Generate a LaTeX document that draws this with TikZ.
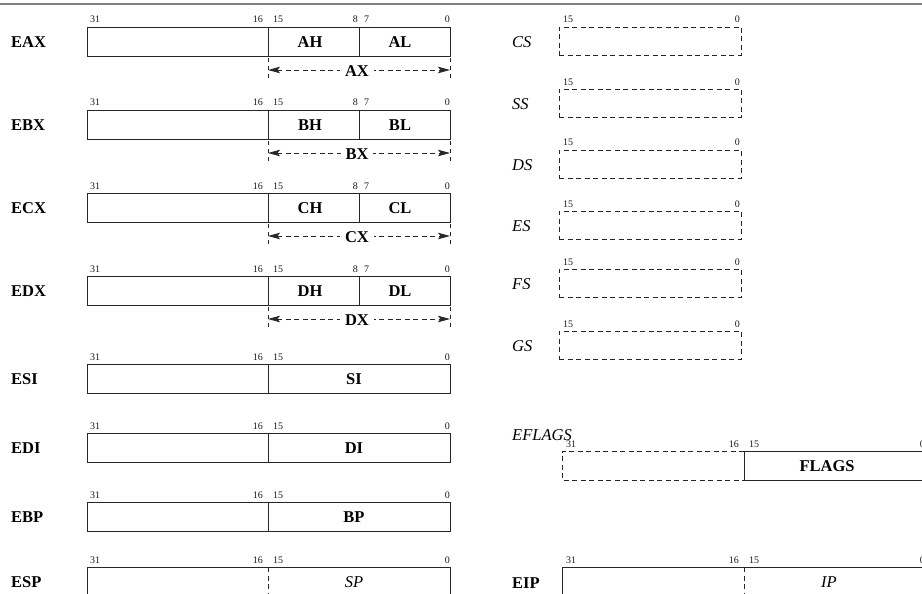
\documentclass[tikz,border=0pt]{standalone}
\usepackage{fontspec}
\setmainfont{Liberation Serif}
\usetikzlibrary{arrows.meta}
\tikzset{
  regline/.style={draw=black!85, line width=0.8pt},
  dregline/.style={draw=black!85, line width=0.8pt, dash pattern=on 5pt off 3.5pt},
  regbox/.style={regline, rectangle, minimum width=363pt, minimum height=29pt, inner sep=0pt, outer sep=0pt},
  segbox/.style={dregline, rectangle, minimum width=182pt, minimum height=28pt, inner sep=0pt, outer sep=0pt},
  bitlab/.style={font=\fontsize{10}{11}\selectfont, inner sep=0pt, text=black!90},
  reglab/.style={font=\fontsize{16.5}{18}\selectfont\bfseries, inner sep=0pt},
  seglab/.style={font=\fontsize{16.5}{18}\selectfont\itshape, inner sep=0pt},
  tickline/.style={draw=black!85, line width=0.8pt, dash pattern=on 4pt off 4pt},
  spanarrow/.style={draw=black!85, line width=0.8pt, dash pattern=on 5pt off 3.5pt,
     {Stealth[length=12pt,width=6.5pt,inset=2.5pt]}-{Stealth[length=12pt,width=6.5pt,inset=2.5pt]}},
}
\newcommand\gpxreg[6]{%
  \node[regbox,anchor=north west] (#1) at (87,#2) {};
  \draw[regline] (268,#2) -- (268,#2+29);
  \draw[regline] (359,#2) -- (359,#2+29);
  \node[bitlab,anchor=base west] (#1b31) at (90,#2-4) {31};
  \node[bitlab,anchor=base east] (#1b16) at (263,#2-4) {16};
  \node[bitlab,anchor=base west] (#1b15) at (273,#2-4) {15};
  \node[bitlab,anchor=base east] (#1b8) at (358,#2-4) {8};
  \node[bitlab,anchor=base west] (#1b7) at (364,#2-4) {7};
  \node[bitlab,anchor=base east] (#1b0) at (450,#2-4) {0};
  \node[reglab,anchor=west] (#1n) at (11,#2+15) {#3};
  \node[reglab] (#1h) at (310,#2+15) {#4};
  \node[reglab] (#1l) at (400,#2+15) {#5};
  \coordinate (#1tl) at (268,#2+31);
  \coordinate (#1bl) at (268,#2+53);
  \coordinate (#1tr) at (450,#2+31);
  \coordinate (#1br) at (450,#2+53);
  \coordinate (#1al) at (268,#2+43);
  \coordinate (#1ar) at (450,#2+43);
  \draw[tickline] (#1tl) -- (#1bl);
  \draw[tickline] (#1tr) -- (#1br);
  \draw[spanarrow] (#1al) -- (#1ar);
  \node[reglab,fill=white,inner xsep=5pt,inner ysep=1pt] (#1p) at (357,#2+44) {#6};
}
\newcommand\gpwreg[5]{% id, top, name, low, divider style
  \node[regbox,anchor=north west] (#1) at (87,#2) {};
  \draw[#5] (268,#2) -- (268,#2+29);
  \node[bitlab,anchor=base west] (#1b31) at (90,#2-4) {31};
  \node[bitlab,anchor=base east] (#1b16) at (263,#2-4) {16};
  \node[bitlab,anchor=base west] (#1b15) at (273,#2-4) {15};
  \node[bitlab,anchor=base east] (#1b0) at (450,#2-4) {0};
  \node[reglab,anchor=west] (#1n) at (11,#2+15) {#3};
  \node[reglab] (#1lo) at (354,#2+15) {#4};
}
\newcommand\segreg[3]{% id, top, name
  \node[segbox,anchor=north west] (#1) at (559,#2) {};
  \node[bitlab,anchor=base west] (#1b15) at (563,#2-4) {15};
  \node[bitlab,anchor=base east] (#1b0) at (740,#2-4) {0};
  \node[seglab,anchor=west] (#1n) at (512,#2+15) {#3};
}
\begin{document}
\begin{tikzpicture}[x=1pt,y=-1pt]
\useasboundingbox (0,0) rectangle (922,594);
\clip (0,0) rectangle (922,594);
% top rule
\coordinate (rulel) at (0,4.5);
\coordinate (ruler) at (922,4.5);
\draw[draw=black!50, line width=2pt] (rulel) -- (ruler);
% general registers
\gpxreg{eax}{27}{EAX}{AH}{AL}{AX}
\gpxreg{ebx}{110}{EBX}{BH}{BL}{BX}
\gpxreg{ecx}{193}{ECX}{CH}{CL}{CX}
\gpxreg{edx}{276}{EDX}{DH}{DL}{DX}
\gpwreg{esi}{364}{ESI}{SI}{regline}
\gpwreg{edi}{433}{EDI}{DI}{regline}
\gpwreg{ebp}{502}{EBP}{BP}{regline}
\gpwreg{esp}{567}{ESP}{\normalfont\fontsize{16.5}{18}\selectfont\itshape SP}{dregline}
% segment registers
\segreg{cs}{27}{CS}
\segreg{ss}{89}{SS}
\segreg{ds}{150}{DS}
\segreg{es}{211}{ES}
\segreg{fs}{269}{FS}
\segreg{gs}{331}{GS}
% EFLAGS
\node[seglab,anchor=base west] (eflagsn) at (512,440) {EFLAGS};
\draw[dregline] (744,451) -- (562,451) -- (562,480) -- (744,480);
\node[regline, rectangle, minimum width=181pt, minimum height=29pt, inner sep=0pt, outer sep=0pt, anchor=north west] (flags) at (744,451) {};
\node[reglab] (flagsn) at (827,466) {FLAGS};
\node[bitlab,anchor=base west] (efb31) at (566,447) {31};
\node[bitlab,anchor=base east] (efb16) at (739,447) {16};
\node[bitlab,anchor=base west] (efb15) at (749,447) {15};
\node[bitlab,anchor=base east] (efb0) at (925,447) {0};
% EIP
\node[regbox,anchor=north west] (eip) at (562,567) {};
\draw[dregline] (744,567) -- (744,596);
\node[reglab,anchor=west] (eipn) at (512,583) {EIP};
\node[seglab] (ipn) at (829,582) {IP};
\node[bitlab,anchor=base west] (eipb31) at (566,563) {31};
\node[bitlab,anchor=base east] (eipb16) at (739,563) {16};
\node[bitlab,anchor=base west] (eipb15) at (749,563) {15};
\node[bitlab,anchor=base east] (eipb0) at (925,563) {0};
\end{tikzpicture}
\end{document}
